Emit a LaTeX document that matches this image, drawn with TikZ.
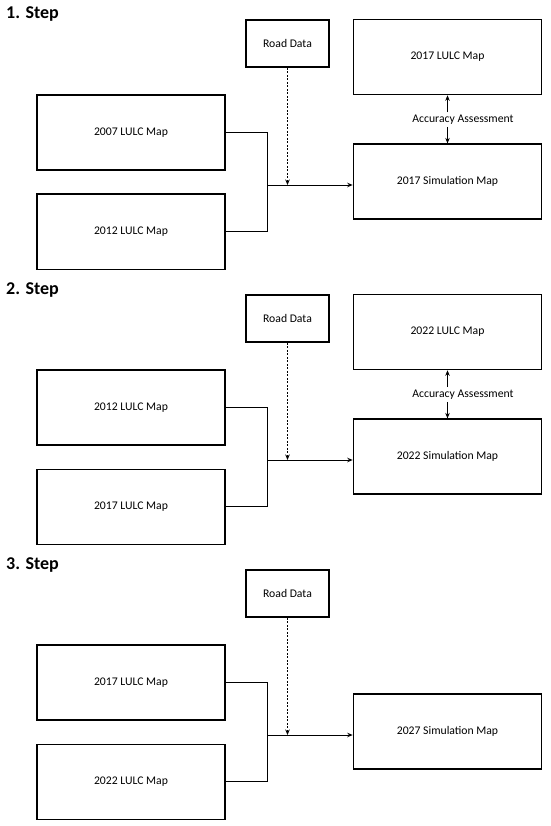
\documentclass[tikz,border=0pt]{standalone}
\usepackage{fontspec}
\setmainfont{Carlito}
\usetikzlibrary{arrows.meta}
\begin{document}
\begin{tikzpicture}[x=1pt,y=-1pt,
  mapbox/.style={draw,line width=1.6pt,inner sep=0pt,minimum width=188pt,minimum height=75pt,font=\fontsize{11.7}{13}\selectfont},
  roadbox/.style={draw,line width=1.6pt,inner sep=0pt,minimum width=83pt,minimum height=47pt,font=\fontsize{11.7}{13}\selectfont},
  conn/.style={line width=0.9pt},
  arr/.style={line width=0.9pt,-{Stealth[length=5.5pt,width=4.5pt]}},
  darr/.style={line width=0.9pt,dash pattern=on 2pt off 1.5pt,-{Stealth[length=5.5pt,width=4.5pt]}},
  acclabel/.style={inner sep=2.5pt,font=\fontsize{11.7}{13}\selectfont},
  steptitle/.style={anchor=base west,inner sep=0pt,font=\fontsize{18}{20}\selectfont\bfseries}]
\useasboundingbox (0,0) rectangle (550,826);
% ---------- Step 1 ----------
\begin{scope}
\node[steptitle] (t1) at (6,19) {1. Step};
\node[roadbox] (r1) at (287.5,43.5) {Road Data};
\node[mapbox] (l1) at (447.5,57) {2017 LULC Map};
\node[mapbox] (a1) at (131,132.7) {2007 LULC Map};
\node[mapbox] (b1) at (131,231.8) {2012 LULC Map};
\node[mapbox] (s1) at (447.5,181.7) {2017 Simulation Map};
\node[acclabel] (c1) at (463,119.5) {Accuracy Assessment};
\coordinate (j1) at (267.3,185);
\draw[conn] (a1.east) -| (j1) |- (b1.east);
\draw[arr] (j1) -- (j1 -| s1.west);
\draw[darr] (r1.south) -- (r1.south |- j1);
\draw[arr] (c1.north -| l1.south) -- (l1.south);
\draw[arr] (c1.south -| s1.north) -- (s1.north);
\end{scope}
% ---------- Step 2 ----------
\begin{scope}[shift={(0,275)}]
\node[steptitle] (t2) at (6,19) {2. Step};
\node[roadbox] (r2) at (287.5,43.5) {Road Data};
\node[mapbox] (l2) at (447.5,57) {2022 LULC Map};
\node[mapbox] (a2) at (131,132.7) {2012 LULC Map};
\node[mapbox] (b2) at (131,231.8) {2017 LULC Map};
\node[mapbox] (s2) at (447.5,181.7) {2022 Simulation Map};
\node[acclabel] (c2) at (463,119.5) {Accuracy Assessment};
\coordinate (j2) at (267.3,185);
\draw[conn] (a2.east) -| (j2) |- (b2.east);
\draw[arr] (j2) -- (j2 -| s2.west);
\draw[darr] (r2.south) -- (r2.south |- j2);
\draw[arr] (c2.north -| l2.south) -- (l2.south);
\draw[arr] (c2.south -| s2.north) -- (s2.north);
\end{scope}
% ---------- Step 3 ----------
\begin{scope}[shift={(0,550)}]
\node[steptitle] (t3) at (6,19) {3. Step};
\node[roadbox] (r3) at (287.5,43.5) {Road Data};
\node[mapbox] (a3) at (131,132.7) {2017 LULC Map};
\node[mapbox] (b3) at (131,231.8) {2022 LULC Map};
\node[mapbox] (s3) at (447.5,181.7) {2027 Simulation Map};
\coordinate (j3) at (267.3,185);
\draw[conn] (a3.east) -| (j3) |- (b3.east);
\draw[arr] (j3) -- (j3 -| s3.west);
\draw[darr] (r3.south) -- (r3.south |- j3);
\end{scope}
\end{tikzpicture}
\end{document}
